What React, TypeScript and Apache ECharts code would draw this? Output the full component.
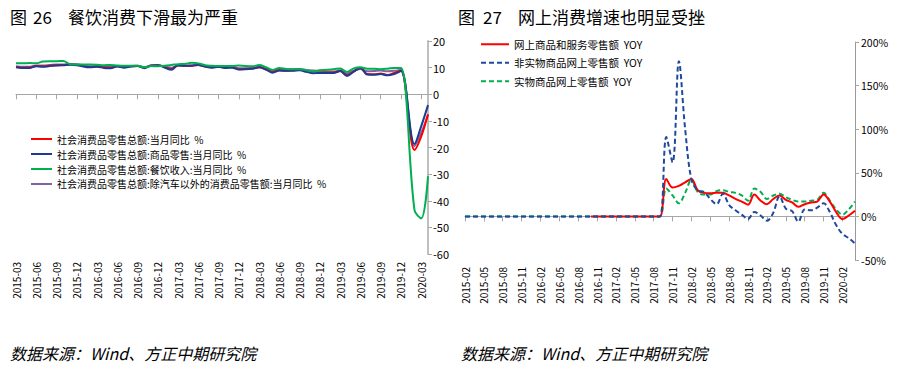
import React, { useEffect, useRef } from "react";
import * as echarts from "echarts";

function makeMonths(y0: number, m0: number, n: number): string[] {
  const out: string[] = [];
  let y = y0;
  let m = m0;
  for (let i = 0; i < n; i++) {
    out.push(`${y}-${m < 10 ? "0" + m : m}`);
    m++;
    if (m > 12) { m = 1; y++; }
  }
  return out;
}

// ---------- Left chart (2015-03 .. 2020-04) ----------
const leftCategories = makeMonths(2015, 3, 62);
const leftNames = [
  "社会消费品零售总额:当月同比  %",
  "社会消费品零售总额:商品零售:当月同比  %",
  "社会消费品零售总额:餐饮收入:当月同比  %",
  "社会消费品零售总额:除汽车以外的消费品零售额:当月同比  %",
];
const retailTotal = [
  10.2, 10.0, 10.1, 10.6, 10.5, 10.8, 10.9, 11.0, 11.2, 11.1,
  null, 10.2, 10.5, 10.1, 10.0, 10.6, 10.2, 10.6, 10.7, 10.0, 10.8, 10.9,
  null, 9.5, 10.9, 10.7, 10.7, 11.0, 10.4, 10.1, 10.3, 10.0, 10.2, 9.4,
  null, 9.7, 10.1, 9.4, 8.5, 9.0, 8.8, 9.0, 9.2, 8.6, 8.1, 8.2,
  null, 8.2, 8.7, 7.2, 8.6, 9.8, 7.6, 7.5, 7.8, 7.2, 8.0, 8.8,
  null, -20.9, -15.8, -7.5,
];
const goodsRetail = [
  10.1, 9.9, 9.9, 10.5, 10.3, 10.6, 10.8, 10.9, 11.1, 10.9,
  null, 10.1, 10.3, 9.9, 9.8, 10.4, 10.0, 10.4, 10.6, 9.8, 10.8, 10.9,
  null, 9.2, 10.9, 10.7, 10.7, 11.0, 10.4, 10.0, 10.3, 9.9, 10.0, 9.3,
  null, 9.6, 10.1, 9.3, 8.1, 8.9, 8.8, 8.8, 9.0, 8.4, 7.9, 8.0,
  null, 8.0, 8.7, 6.9, 8.5, 9.9, 7.4, 7.3, 7.6, 7.1, 7.6, 8.7,
  null, -18.7, -12.0, -4.1,
];
const cateringRevenue = [
  11.6, 11.6, 11.7, 11.6, 12.3, 12.4, 12.4, 12.5, 11.3, 11.2,
  null, 11.2, 11.1, 10.9, 11.0, 10.8, 10.7, 10.7, 10.7, 10.1, 10.6, 10.5,
  null, 11.0, 11.3, 11.4, 11.8, 11.6, 10.9, 10.7, 10.6, 10.6, 10.6, 10.8,
  null, 10.5, 11.0, 10.2, 9.1, 9.9, 9.5, 9.4, 9.4, 9.0, 8.5, 9.0,
  null, 9.4, 9.7, 8.4, 9.7, 10.1, 9.6, 9.6, 9.4, 9.6, 9.9, 9.9,
  null, -43.5, -46.6, -30.8,
];
const exAutoRetail = [
  10.5, 10.3, 10.3, 10.8, 10.8, 11.0, 11.2, 11.2, 11.4, 11.3,
  null, 10.5, 10.6, 10.3, 10.2, 10.6, 10.2, 10.5, 10.6, 10.1, 10.7, 10.8,
  null, 10.0, 10.8, 10.7, 10.8, 11.1, 10.6, 10.4, 10.4, 10.1, 10.4, 9.8,
  null, 9.9, 10.2, 9.6, 8.9, 9.3, 9.3, 9.4, 9.5, 9.1, 8.9, 8.8,
  null, 8.5, 9.0, 7.8, 8.8, 9.5, 8.6, 8.7, 8.9, 8.6, 8.8, 9.2,
  null, -19.5, -14.5, -7.8,
];
const leftTicks = { min: -60, max: 20, interval: 10 };

// ---------- Right chart (2015-02 .. 2020-04) ----------
const rightCategories = makeMonths(2015, 2, 63);
const rightNames = [
  "网上商品和服务零售额  YOY",
  "非实物商品网上零售额  YOY",
  "实物商品网上零售额  YOY",
];
const onlineTotal = [
  null, null, null, null, null, null, null, null, null, null,
  null, null, null, null, null, null, null, null, null, null,
  0, 0, 0, 0, 0, 0, 0, 0, 0, 0, 0, 0,
  43, 33, 35, 39, 43, 30, 27, 26.5, 27, 27,
  24, 20, 17, 13.5, 25, 18, 14, 20, 24, 19,
  16, 11, 14, 16, 17, 25, 17, 5, -3, 1, 6.5,
];
const onlineNonPhysical = [
  0, 0, 0, 0, 0, 0, 0, 0, 0, 0,
  0, 0, 0, 0, 0, 0, 0, 0, 0, 0,
  0, 0, 0, 0, 0, 0, 0, 0, 0, 0, 0, 0,
  91, 62, 178, 100, 42, 30, 28, 20, 14, 26,
  13, 7, 2, -3, 5, 1, -5, 4, 23, 9,
  6, -6, 8, 7, 10, 15, 5, -10, -20, -25, -31,
];
const onlinePhysical = [
  0, 0, 0, 0, 0, 0, 0, 0, 0, 0,
  0, 0, 0, 0, 0, 0, 0, 0, 0, 0,
  0, 0, 0, 0, 0, 0, 0, 0, 0, 0, 0, 0,
  32, 24, 15, 27, 42, 28, 25, 25, 29, 30,
  28, 27, 24, 18, 32, 28, 20, 24, 26, 22,
  19, 17, 17, 18, 19, 27, 18, 8, 2, 8, 17,
];
const rightTicks = { min: -50, max: 200, interval: 50 };

const FONT = '"Noto Sans CJK SC", "Noto Sans", sans-serif';

export default function App() {
  const ref = useRef<HTMLDivElement>(null);
  useEffect(() => {
    if (!ref.current) return;
    const chart = echarts.init(ref.current, undefined, { renderer: "svg" });
    const axisGray = "#a6a6a6";
    const catAxisLine = (gridIndex: number, data: string[]) => ({
      gridIndex,
      type: "category",
      data,
      boundaryGap: false,
      position: "bottom",
      axisLine: { show: true, onZero: true, lineStyle: { color: axisGray, width: 1 } },
      axisTick: { show: true, interval: 2, length: 5, lineStyle: { color: axisGray } },
      axisLabel: { show: false },
      splitLine: { show: false },
    });
    const catAxisLabels = (gridIndex: number, data: string[], margin: number) => ({
      gridIndex,
      type: "category",
      data,
      boundaryGap: false,
      position: "bottom",
      axisLine: { show: false, onZero: false },
      axisTick: { show: false },
      axisLabel: { show: true, interval: 2, rotate: 90, fontSize: 10, color: "#000", margin, fontFamily: FONT },
      splitLine: { show: false },
    });
    const lineSeries = (
      name: string, data: any[], color: string, xi: number, yi: number, z: number, dashed: boolean
    ) => ({
      name,
      type: "line",
      xAxisIndex: xi,
      yAxisIndex: yi,
      data,
      symbol: "none",
      showSymbol: false,
      smooth: 0.35,
      connectNulls: true,
      z,
      itemStyle: { color },
      lineStyle: { color, width: 2, type: dashed ? [5, 3] : "solid" },
    });
    chart.setOption({
      animation: false,
      textStyle: { fontFamily: FONT },
      grid: [
        { left: 16, right: 905 - 428, top: 41, bottom: 373 - 254 },
        { left: 465, right: 905 - 855, top: 42, bottom: 373 - 260 },
      ],
      xAxis: [
        catAxisLine(0, leftCategories),
        catAxisLabels(0, leftCategories, 8),
        catAxisLine(1, rightCategories),
        catAxisLabels(1, rightCategories, 7),
      ],
      yAxis: [
        {
          gridIndex: 0,
          type: "value",
          position: "right",
          ...leftTicks,
          splitLine: { show: false },
          axisLine: { show: true, lineStyle: { color: "#bfbfbf", width: 2 } },
          axisTick: { show: true, length: 4, lineStyle: { color: axisGray } },
          axisLabel: { fontSize: 11, color: "#000", margin: 5 },
        },
        {
          gridIndex: 1,
          type: "value",
          position: "right",
          ...rightTicks,
          splitLine: { show: false },
          axisLine: { show: true, lineStyle: { color: "#999999", width: 1 } },
          axisTick: { show: true, length: 4, lineStyle: { color: axisGray } },
          axisLabel: { fontSize: 10.5, color: "#000", margin: 6, formatter: "{value}%" },
        },
      ],
      legend: [
        {
          data: leftNames,
          orient: "vertical",
          left: 25,
          top: 129,
          itemWidth: 21,
          itemHeight: 10,
          itemGap: 5,
          itemStyle: { opacity: 0 },
          textStyle: { fontSize: 10, color: "#000", fontFamily: FONT },
        },
        {
          data: rightNames,
          orient: "vertical",
          left: 475,
          top: 34,
          itemWidth: 28,
          itemHeight: 10,
          itemGap: 8,
          itemStyle: { opacity: 0 },
          textStyle: { fontSize: 10.5, color: "#000", fontFamily: FONT },
        },
      ],
      series: [
        lineSeries(leftNames[0], retailTotal, "#ff0000", 0, 0, 3, false),
        lineSeries(leftNames[1], goodsRetail, "#1f3a93", 0, 0, 4, false),
        lineSeries(leftNames[2], cateringRevenue, "#00b050", 0, 0, 5, false),
        lineSeries(leftNames[3], exAutoRetail, "#8064a2", 0, 0, 2, false),
        lineSeries(rightNames[0], onlineTotal, "#ff0000", 2, 1, 3, false),
        lineSeries(rightNames[1], onlineNonPhysical, "#1f4a9c", 2, 1, 4, true),
        lineSeries(rightNames[2], onlinePhysical, "#00b050", 2, 1, 2, true),
      ],
      graphic: [
        { type: "text", x: 10, y: 16, style: { text: "图", font: `17px ${FONT}`, fill: "#000", verticalAlign: "middle" } },
        { type: "text", x: 33, y: 16, style: { text: "26", font: `17px ${FONT}`, fill: "#000", verticalAlign: "middle" } },
        { type: "text", x: 68, y: 16, style: { text: "餐饮消费下滑最为严重", font: `17px ${FONT}`, fill: "#000", verticalAlign: "middle" } },
        { type: "text", x: 458, y: 16, style: { text: "图", font: `17px ${FONT}`, fill: "#000", verticalAlign: "middle" } },
        { type: "text", x: 483, y: 16, style: { text: "27", font: `17px ${FONT}`, fill: "#000", verticalAlign: "middle" } },
        { type: "text", x: 518, y: 16, style: { text: "网上消费增速也明显受挫", font: `17px ${FONT}`, fill: "#000", verticalAlign: "middle" } },
        { type: "text", x: 10, y: 353, style: { text: "数据来源：Wind、方正中期研究院", font: `italic 16px ${FONT}`, fill: "#000", verticalAlign: "middle" } },
        { type: "text", x: 461, y: 353, style: { text: "数据来源：Wind、方正中期研究院", font: `italic 16px ${FONT}`, fill: "#000", verticalAlign: "middle" } },
      ],
    });
    return () => chart.dispose();
  }, []);
  return (
    <div
      ref={ref}
      style={{ position: "fixed", left: 0, top: 0, width: 905, height: 373, background: "#fff" }}
    />
  );
}
